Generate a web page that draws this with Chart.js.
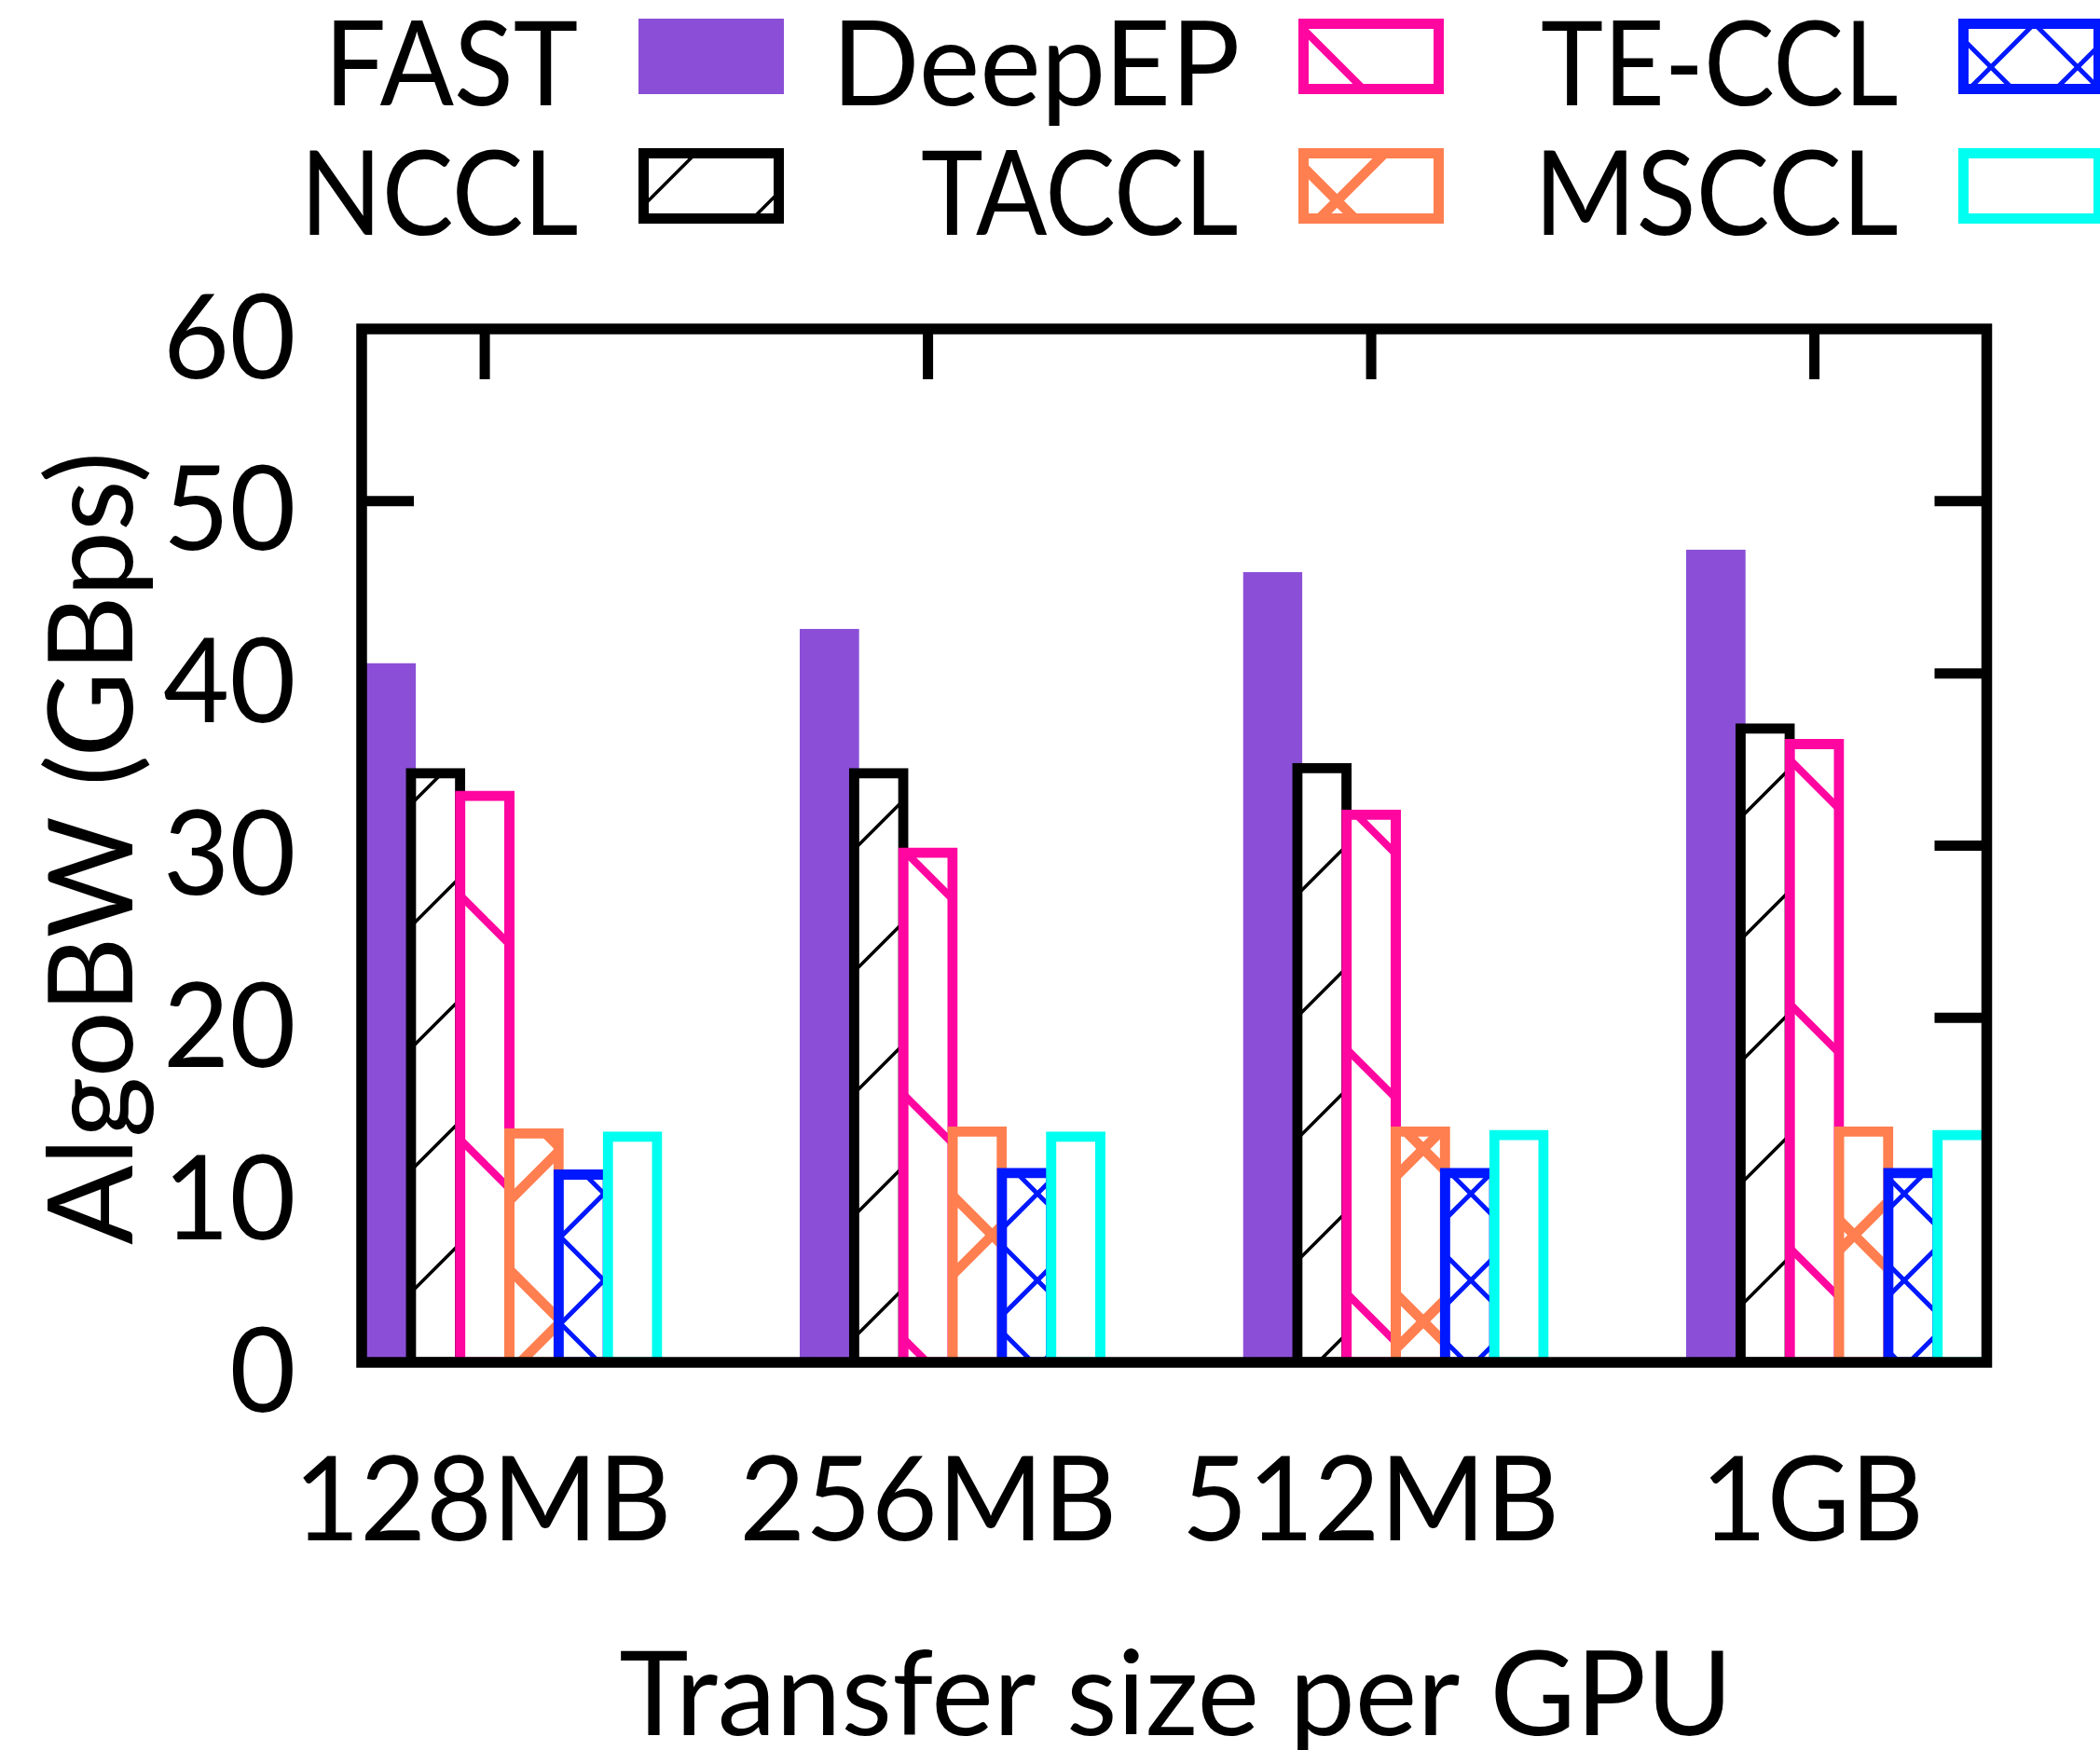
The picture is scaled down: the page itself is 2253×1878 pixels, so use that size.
<!DOCTYPE html>
<html>
<head>
<meta charset="utf-8">
<title>AlgoBW by transfer size</title>
<style>
  html, body { margin: 0; padding: 0; background: #ffffff; }
  #c { display: block; width: 2253px; height: 1878px; }
</style>
<script src="https://cdn.jsdelivr.net/npm/chart.js@4.4.1/dist/chart.umd.min.js"></script>
</head>
<body>
<canvas id="c" width="2253" height="1878"></canvas>
<script>
// ---- data -------------------------------------------------------------
const categories  = ['128MB', '256MB', '512MB', '1GB'];
const seriesNames = ['FAST', 'NCCL', 'DeepEP', 'TACCL', 'TE-CCL', 'MSCCL'];
const fast   = [40.3, 42.3, 45.6, 46.9];
const nccl   = [34.2, 34.2, 34.5, 36.8];
const deepep = [32.9, 29.6, 31.8, 35.9];
const taccl  = [13.3, 13.4, 13.4, 13.4];
const teccl  = [10.9, 11.0, 11.0, 11.0];
const msccl  = [13.1, 13.1, 13.2, 13.2];
const yTickValues = [0, 10, 20, 30, 40, 50, 60];
const xTitle = 'Transfer size per GPU';
const yTitle = 'AlgoBW (GBps)';

const seriesValues = [fast, nccl, deepep, taccl, teccl, msccl];

// ---- styling ----------------------------------------------------------
const FONT = 'Lato';
const FONT_SIZE = 126;
const FONT_CSS = FONT_SIZE + 'px ' + FONT;
const colors = ['#8A4FD6', '#000000', '#FF06A0', '#FF7F50', '#0018FF', '#00FFF0'];
const BAR_STROKE = 11;
const GROUP_FRACTION = 2 / 3;           // share of a category taken by a cluster

// key layout: swatch grid and the inked width of each key label
const keyLayout = { left: 685, top: 20, colStep: 708, rowStep: 139, w: 156, h: 81, gap: 66, baseline: 92.6 };
const keyTextWidths = [261, 287, 424, 338, 381, 379];
// horizontal squeeze of tick labels
const xLabelSqueeze = 0.97;
const yLabelSqueeze = 0.975;

const canvas = document.getElementById('c');
const mainCtx = canvas.getContext('2d');

// 45-degree hatch fill on a white tile; slash: x+y = phase (mod period),
// back: y-x = phase (mod period)
function hatch(color, width, period, slashPhase, backPhase) {
  const tile = document.createElement('canvas');
  tile.width = period; tile.height = period;
  const t = tile.getContext('2d');
  t.fillStyle = '#ffffff';
  t.fillRect(0, 0, period, period);
  t.strokeStyle = color;
  t.lineWidth = width;
  t.lineCap = 'butt';
  for (let k = -2; k <= 2; k++) {
    if (slashPhase !== null) {
      const c = slashPhase + k * period;
      t.beginPath(); t.moveTo(c + period, -period); t.lineTo(c - 2 * period, 2 * period); t.stroke();
    }
    if (backPhase !== null) {
      const c = backPhase + k * period;
      t.beginPath(); t.moveTo(-period, c - period); t.lineTo(2 * period, c + 2 * period); t.stroke();
    }
  }
  return mainCtx.createPattern(tile, 'repeat');
}

const fills = [
  colors[0],
  hatch(colors[1], 3.5, 131, 125, null),
  hatch(colors[2], 8, 262, null, 205),
  hatch(colors[3], 10.5, 185, 170, 76),
  hatch(colors[4], 5, 93, 69, 75),
  '#ffffff'
];

// label / tick position inside a cluster: centre of the third bar
const tickShift = GROUP_FRACTION / seriesNames.length / 2;

// draw text so that its ink box starts/ends/centres at `anchor`, squeezed by sx
function inkText(ctx, text, anchor, align, baseline, sx) {
  const m = ctx.measureText(text);
  const l = m.actualBoundingBoxLeft, r = m.actualBoundingBoxRight;
  const w = (l + r) * sx;
  const left = align === 'right' ? anchor - w : align === 'center' ? anchor - w / 2 : anchor;
  ctx.save();
  ctx.translate(left, baseline);
  ctx.scale(sx, 1);
  ctx.textAlign = 'left';
  ctx.textBaseline = 'alphabetic';
  ctx.fillText(text, l, 0);
  ctx.restore();
}

function inkWidth(ctx, text) {
  const m = ctx.measureText(text);
  return m.actualBoundingBoxLeft + m.actualBoundingBoxRight;
}

// ---- plugins ----------------------------------------------------------
// plot frame: tick marks under the bars, bars left to right (each later bar
// overlapping its neighbour's edge), then the box on top
const plotFrame = {
  id: 'plotFrame',
  beforeDatasetsDraw(chart) {
    const { ctx, chartArea: a, scales } = chart;
    ctx.save();
    ctx.strokeStyle = '#000';
    ctx.lineWidth = 11;
    ctx.lineCap = 'butt';
    const yLen = 56, xLen = 54;
    scales.y.ticks.forEach(t => {
      if (t.value <= scales.y.min || t.value >= scales.y.max) return;
      const y = scales.y.getPixelForValue(t.value);
      ctx.beginPath(); ctx.moveTo(a.left, y); ctx.lineTo(a.left + yLen, y); ctx.stroke();
      ctx.beginPath(); ctx.moveTo(a.right, y); ctx.lineTo(a.right - yLen, y); ctx.stroke();
    });
    scales.x.ticks.forEach(t => {
      const x = scales.x.getPixelForValue(t.value);
      ctx.beginPath(); ctx.moveTo(x, a.top); ctx.lineTo(x, a.top + xLen); ctx.stroke();
      ctx.beginPath(); ctx.moveTo(x, a.bottom); ctx.lineTo(x, a.bottom - xLen); ctx.stroke();
    });
    ctx.restore();

    ctx.save();
    ctx.beginPath();
    ctx.rect(a.left, a.top, a.right - a.left, a.bottom - a.top);
    ctx.clip();
    chart.getSortedVisibleDatasetMetas().forEach(meta => meta.controller.draw());
    ctx.restore();

    ctx.save();
    ctx.strokeStyle = '#000';
    ctx.lineWidth = 11.5;
    ctx.lineJoin = 'miter';
    ctx.strokeRect(a.left, a.top, a.right - a.left, a.bottom - a.top);
    ctx.restore();
    return false;
  }
};

// axis labels and titles, placed from the scales
const axisText = {
  id: 'axisText',
  afterDraw(chart) {
    const { ctx, chartArea: a, scales } = chart;
    ctx.save();
    ctx.fillStyle = '#000';
    ctx.font = FONT_CSS;
    scales.x.ticks.forEach((t, i) => {
      inkText(ctx, categories[i], scales.x.getPixelForValue(t.value), 'center', a.bottom + 191.3, xLabelSqueeze);
    });
    scales.y.ticks.forEach(t => {
      inkText(ctx, String(t.value), a.left - 73.5, 'right', scales.y.getPixelForValue(t.value) + 52.5, yLabelSqueeze);
    });
    inkText(ctx, xTitle, (a.left + a.right) / 2 - 2.5, 'center', a.bottom + 399.7, 1);
    ctx.translate(141.7, (a.top + a.bottom) / 2 + 5.5);
    ctx.rotate(-Math.PI / 2);
    inkText(ctx, yTitle, 0, 'center', 0, 1);
    ctx.restore();
  }
};

// two-row key: name to the left of its swatch, filled column by column
const keyBox = {
  id: 'keyBox',
  afterDraw(chart) {
    const { ctx } = chart;
    const k = keyLayout;
    ctx.save();
    ctx.font = FONT_CSS;
    chart.data.datasets.forEach((ds, s) => {
      const col = Math.floor(s / 2), row = s % 2;
      const bx = k.left + col * k.colStep, by = k.top + row * k.rowStep;
      const half = BAR_STROKE / 2;
      ctx.fillStyle = ds.backgroundColor;
      ctx.fillRect(bx + half, by + half, k.w - BAR_STROKE, k.h - BAR_STROKE);
      ctx.lineWidth = BAR_STROKE;
      ctx.strokeStyle = ds.borderColor;
      ctx.lineJoin = 'miter';
      ctx.strokeRect(bx + half, by + half, k.w - BAR_STROKE, k.h - BAR_STROKE);
      ctx.fillStyle = '#000';
      const sx = keyTextWidths[s] / inkWidth(ctx, ds.label);
      inkText(ctx, ds.label, bx - k.gap, 'right', by + k.baseline, sx);
    });
    ctx.restore();
  }
};

// ---- chart ------------------------------------------------------------
new Chart(canvas, {
  type: 'bar',
  data: {
    datasets: seriesNames.map((name, s) => ({
      label: name,
      data: seriesValues[s].map((v, i) => ({ x: i, y: v })),
      backgroundColor: fills[s],
      borderColor: colors[s],
      borderWidth: BAR_STROKE,
      borderSkipped: false,
      inflateAmount: BAR_STROKE / 2,
      clip: 0,
      categoryPercentage: GROUP_FRACTION,
      barPercentage: 1
    }))
  },
  options: {
    responsive: false,
    animation: false,
    devicePixelRatio: 1,
    layout: { padding: { left: 0, top: 353, right: 121.5, bottom: 0 } },
    plugins: { legend: { display: false }, tooltip: { enabled: false } },
    scales: {
      x: {
        type: 'linear',
        offset: false,
        min: -1 / 3,
        max: categories.length - 2 / 3,
        afterBuildTicks: s => { s.ticks = categories.map((_, i) => ({ value: i - tickShift })); },
        afterFit: s => { s.height = 416; },
        grid: { display: false, drawTicks: false },
        border: { display: false },
        ticks: { display: false, autoSkip: false },
        title: { display: false, text: xTitle }
      },
      y: {
        type: 'linear',
        min: 0,
        max: 60,
        afterBuildTicks: s => { s.ticks = yTickValues.map(v => ({ value: v })); },
        afterFit: s => { s.width = 388; },
        grid: { display: false, drawTicks: false },
        border: { display: false },
        ticks: { display: false },
        title: { display: false, text: yTitle }
      }
    }
  },
  plugins: [plotFrame, axisText, keyBox]
});
</script>
</body>
</html>
